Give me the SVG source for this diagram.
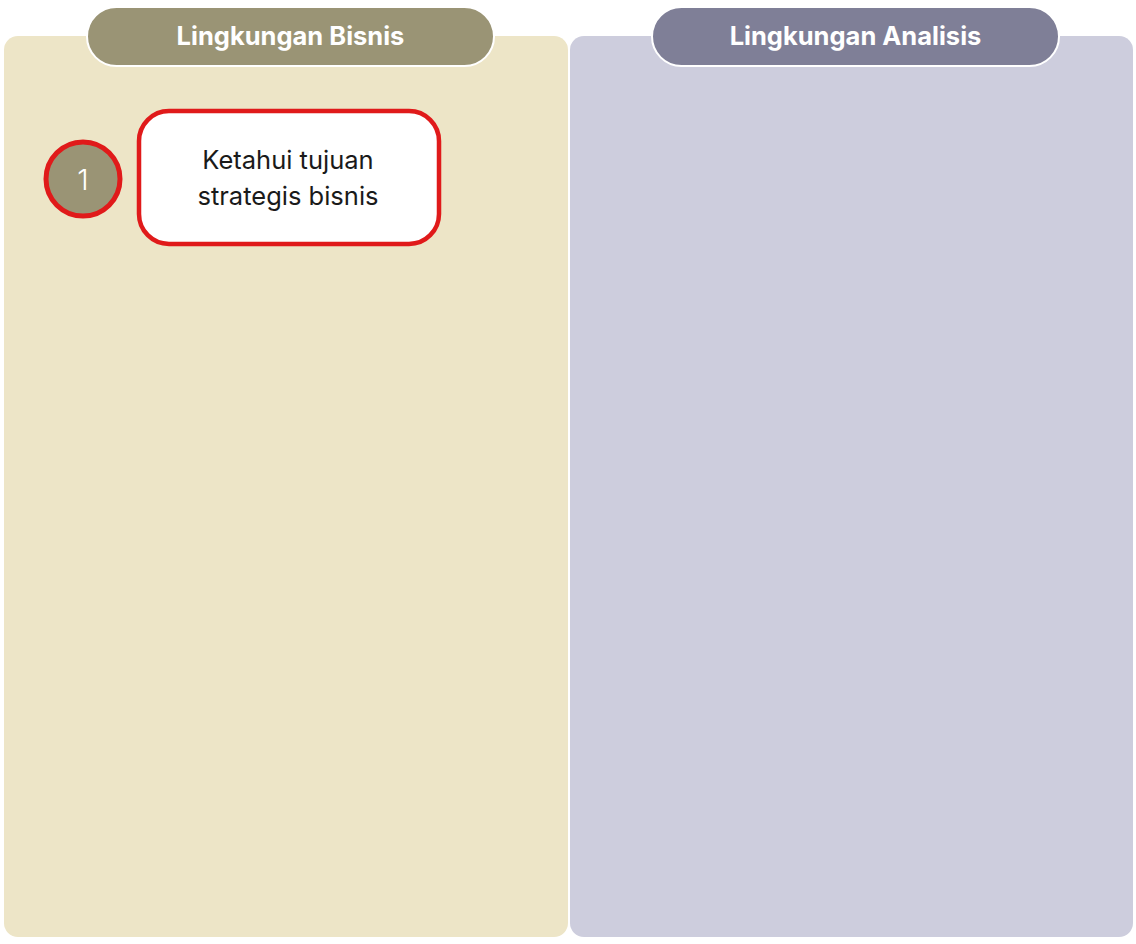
<svg xmlns="http://www.w3.org/2000/svg" width="1136" height="944" viewBox="0 0 1136 944">
<style>
.hdr{font-family:Inter,"Noto Sans","Liberation Sans",sans-serif;font-size:25.5px;font-weight:700;fill:#ffffff;text-anchor:middle}
.lbl{font-family:Inter,"Noto Sans","Liberation Sans",sans-serif;font-size:25.5px;fill:#1a1a1a;text-anchor:middle}
.num{font-family:Inter,"Noto Sans","Liberation Sans",sans-serif;font-size:29px;font-weight:300;fill:#ffffff;text-anchor:middle}
</style>
<rect width="1136" height="944" fill="#ffffff"/>
<g id="lane-bisnis">
<rect x="4" y="36" width="564" height="901" rx="14" fill="#ede5c7"/>
<rect x="87" y="7" width="407" height="59" rx="29.5" fill="#9a9475" stroke="#ffffff" stroke-width="2"/>
<text class="hdr" x="290.5" y="45">Lingkungan Bisnis</text>
</g>
<g id="lane-analisis">
<rect x="570" y="36" width="563" height="901" rx="14" fill="#cdcddd"/>
<rect x="652" y="7" width="407" height="59" rx="29.5" fill="#7f7f97" stroke="#ffffff" stroke-width="2"/>
<text class="hdr" x="855.5" y="45">Lingkungan Analisis</text>
</g>
<g id="step-1">
<circle cx="83" cy="179" r="37" fill="#9a9475" stroke="#e01a1a" stroke-width="5"/>
<text class="num" x="83" y="190">1</text>
</g>
<g id="node-1">
<rect x="139" y="111" width="300" height="133" rx="30" fill="#ffffff" stroke="#e01a1a" stroke-width="4.5"/>
<text class="lbl" x="288" y="169">Ketahui tujuan</text>
<text class="lbl" x="288" y="205">strategis bisnis</text>
</g>
<g id="connectors"></g>
</svg>
